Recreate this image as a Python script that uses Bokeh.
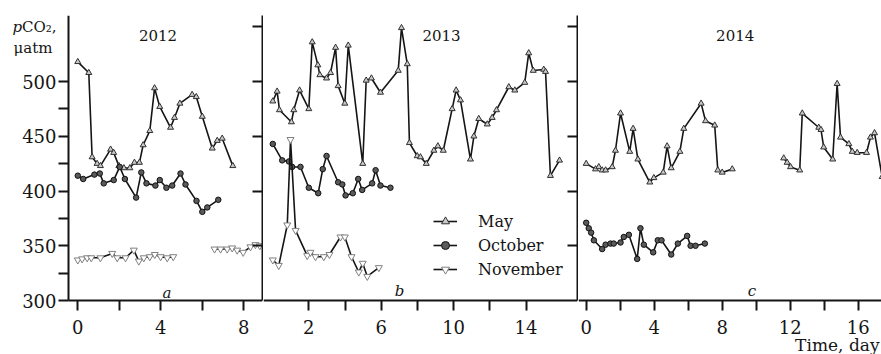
from bokeh.plotting import figure
from bokeh.models import (Range1d, LinearAxis, FixedTicker, Label, Legend,
                          LegendItem, ColumnDataSource)
from bokeh.layouts import row
from bokeh.embed import file_html
from bokeh.resources import INLINE

nan = float("nan")

# ---------------- data (day, pCO2 in uatm) ----------------
# 2012
may12_day = [0.0, 0.53, 0.69, 0.93, 1.09, 1.58, 1.73, 1.98, 2.22, 2.51, 2.73, 2.97, 3.15,
             3.47, 3.70, 3.95, 4.47, 4.66, 4.92, 5.51, 5.71, 6.0, 6.48, 6.72, 6.96, 7.47]
may12 = [518, 508, 431, 425, 423, 438, 435, 423, 421, 421, 426, 426, 442,
         455, 494, 477, 458, 467, 480, 488, 486, 468, 439, 446, 448, 423]
oct12_day = [0.0, 0.26, 0.80, 1.06, 1.25, 1.73, 2.02, 2.27, 2.81, 3.06, 3.31, 3.74, 3.95,
             4.27, 4.55, 4.95, 5.19, 5.72, 6.0, 6.24, 6.77]
oct12 = [414, 411, 415, 416, 407, 410, 422, 411, 394, 417, 407, 405, 410,
         403, 405, 416, 406, 391, 381, 385, 392]
nov12_day = [0.0, 0.21, 0.45, 0.65, 1.09, 1.66, 1.90, 2.30, 2.70, 2.94, 3.18, 3.47, 3.71,
             3.99, 4.31, 4.60, nan, 6.59, 6.88, 7.2, 7.44, 7.68, 7.97, 8.32, 8.56, 8.77]
nov12 = [337, 338, 339, 339, 339, 343, 339, 339, 346, 336, 339, 340, 342,
         340, 339, 340, nan, 347, 347, 347, 348, 346, 344, 349, 351, 350]

# 2013
may13_day = [0.01, 0.25, 0.38, 1.04, 1.17, 1.49, 2.0, 2.19, 2.50, 2.61, 2.98, 3.2, 3.48,
             3.62, 3.99, 4.18, 4.98, 5.17, 5.46, 5.96, 6.94, 7.12, 7.44, 7.56, 7.99, 8.17,
             8.49, 8.91, 9.13, 9.43, 9.92, 10.14, 10.38, 10.93, 11.12, 11.39, 11.86, 12.13,
             12.37, 13.05, 13.38, 13.93, 14.15, 14.4, 14.98, 15.08, 15.35, 15.85]
may13 = [482, 491, 474, 463, 474, 492, 475, 536, 515, 506, 503, 508, 531,
         496, 480, 533, 425, 501, 503, 490, 510, 549, 516, 444, 432, 431,
         425, 437, 441, 437, 475, 492, 483, 429, 450, 466, 461, 467,
         474, 495, 492, 499, 526, 510, 511, 509, 414, 428]
oct13_day = [0.01, 0.53, 0.9, 1.08, 1.54, 2.0, 2.52, 2.77, 2.98, 3.62, 3.85, 4.03, 4.43,
             4.73, 4.95, 5.5, 5.69, 5.96, 6.51]
oct13 = [443, 428, 427, 422, 422, 403, 398, 420, 432, 408, 406, 396, 398,
         411, 401, 407, 419, 405, 403]
nov13_day = [0.01, 0.34, 0.81, 0.99, 1.27, 1.91, 2.09, 2.37, 2.83, 3.14, 3.75, 3.99, 4.36,
             4.76, 4.98, 5.23, 5.87]
nov13 = [337, 332, 369, 447, 364, 341, 344, 340, 340, 342, 358, 358, 340,
         326, 334, 322, 330]

# 2014
may14_day = [0.0, 0.55, 0.74, 0.94, 1.14, 1.53, 1.72, 2.02, 2.56, 2.76, 3.04, 3.74, 3.98,
             4.53, 4.76, 5.0, 5.51, 5.74, 6.76, 7.02, 7.56, 7.74, 8.0, 8.59, nan, 11.62,
             11.82, 12.02, 12.56, 12.71, 13.68, 13.81, 13.97, 14.5, 14.76, 14.96, 15.45,
             15.65, 15.94, 16.49, 16.72, 16.96, 17.41]
may14 = [425, 420, 422, 419, 419, 422, 437, 471, 436, 457, 429, 408, 412,
         417, 441, 421, 436, 457, 480, 464, 460, 419, 417, 420, nan, 430,
         426, 422, 419, 471, 458, 456, 440, 429, 498, 449, 443,
         436, 435, 435, 449, 453, 413]
oct14_day = [0.0, 0.15, 0.29, 0.45, 0.94, 1.14, 1.43, 1.62, 2.02, 2.21, 2.51, 3.0, 3.19,
             3.39, 3.94, 4.21, 4.43, 5.0, 5.39, 5.94, 6.14, 6.43, 6.98]
oct14 = [371, 366, 362, 355, 347, 351, 352, 352, 353, 358, 360, 338, 366,
         351, 344, 355, 355, 342, 352, 359, 350, 350, 352]

years = ["2012", "2013", "2014"]
panel_letters = ["a", "b", "c"]
month_names = ["May", "October", "November"]

# ---------------- styling ----------------
FONT = "DejaVu Serif"
INK = "#151515"
H = 354
TOP = 15
Y_AXIS_TOP = 560.3
Y_RANGE = (250.7, Y_AXIS_TOP)   # frame runs to the bottom of the canvas
Y_BASE = 300

STYLE = {
    "May": dict(marker="triangle", size=6, line_color="#303030", fill_color="#c8c8c8"),
    "October": dict(marker="circle", size=5.5, line_color="#111111", fill_color="#5a5a5a"),
    "November": dict(marker="inverted_triangle", size=7, line_color="#808080", fill_color="white"),
}


def style_axis(ax, size="18px"):
    ax.axis_line_width = 2
    ax.axis_line_color = INK
    ax.major_tick_line_width = 2
    ax.minor_tick_line_width = 2
    ax.major_tick_line_color = INK
    ax.minor_tick_line_color = INK
    ax.major_tick_out = 10
    ax.major_tick_in = 0
    ax.minor_tick_out = 10
    ax.minor_tick_in = 0
    ax.major_label_text_font = FONT
    ax.major_label_text_font_size = size
    ax.major_label_text_color = INK


def make_fig(width, xr, right):
    p = figure(width=width, height=H, x_range=Range1d(*xr), y_range=Range1d(*Y_RANGE),
               output_backend="svg", toolbar_location=None,
               x_axis_location=None, y_axis_location=None,
               min_border_left=0, min_border_right=right,
               min_border_top=TOP, min_border_bottom=0)
    p.outline_line_color = None
    p.xgrid.visible = False
    p.ygrid.visible = False
    p.background_fill_color = "white"
    return p


def x_axis(p, ticks, minor, bounds):
    ax = LinearAxis(fixed_location=Y_BASE, bounds=bounds,
                    ticker=FixedTicker(ticks=ticks, minor_ticks=minor))
    style_axis(ax)
    ax.major_label_standoff = 9
    p.add_layout(ax, "below")


def divider(p):
    ticks = [350, 400, 450, 500, 550]
    ax = LinearAxis(ticker=FixedTicker(ticks=ticks), bounds=(Y_BASE, Y_AXIS_TOP))
    ax.axis_line_width = 2
    ax.axis_line_color = INK
    ax.major_tick_line_width = 2
    ax.major_tick_line_color = INK
    ax.major_tick_in = 10
    ax.major_tick_out = 0
    ax.minor_tick_line_color = None
    ax.major_label_standoff = 0
    ax.major_label_text_font_size = "0px"
    ax.major_label_overrides = {t: "" for t in ticks}
    p.add_layout(ax, "right")


def series(p, days, vals, name):
    src = ColumnDataSource(dict(x=days, y=vals))
    ln = p.line("x", "y", source=src, line_color=INK, line_width=1.6)
    st = STYLE[name]
    sc = p.scatter("x", "y", source=src, marker=st["marker"], size=st["size"],
                   line_color=st["line_color"], fill_color=st["fill_color"], line_width=1)
    return ln, sc


def label(p, x, y, text, size, style="normal", align="left"):
    p.add_layout(Label(x=x, y=y, x_units="screen", y_units="screen", text=text,
                       text_font=FONT, text_font_size=size, text_font_style=style,
                       text_align=align, text_baseline="alphabetic", text_color=INK))


# ---------------- panel a (2012) ----------------
A_LEFT = -0.448
pa = make_fig(263, (-3.725, 8.901), 1)
x_axis(pa, [0, 4, 8], [2, 6], (A_LEFT, 8.901))
ya = LinearAxis(fixed_location=A_LEFT, bounds=(Y_BASE, Y_AXIS_TOP),
                ticker=FixedTicker(ticks=[300, 350, 400, 450, 500],
                                   minor_ticks=[325, 375, 425, 475]))
style_axis(ya)
ya.major_label_standoff = 2
pa.add_layout(ya, "left")
divider(pa)
series(pa, may12_day, may12, "May")
series(pa, oct12_day, oct12, "October")
series(pa, nov12_day, nov12, "November")
label(pa, 12, 328, "p", "15px", "italic")
label(pa, 21.5, 328, "CO\u2082,", "15px")
label(pa, 13, 307, "\u03bcatm", "15px")
label(pa, 157.5, 319, years[0], "15px", align="center")
label(pa, 166.5, 62, panel_letters[0], "15px", "italic", align="center")

# ---------------- panel b (2013) ----------------
pb = make_fig(315, (-0.503, 16.845), 1)
x_axis(pb, [2, 6, 10, 14], [4, 8, 12], (-0.503, 16.845))
divider(pb)
lm, sm = series(pb, may13_day, may13, "May")
lo, so = series(pb, oct13_day, oct13, "October")
ln_, sn = series(pb, nov13_day, nov13, "November")
label(pb, 178, 319, years[1], "15px", align="center")
label(pb, 136, 64, panel_letters[1], "15px", "italic", align="center")
legend = Legend(items=[LegendItem(label=month_names[0], renderers=[lm, sm]),
                       LegendItem(label=month_names[1], renderers=[lo, so]),
                       LegendItem(label=month_names[2], renderers=[ln_, sn])],
                location=(170, 75), orientation="vertical")
legend.border_line_color = None
legend.background_fill_alpha = 0
legend.padding = 0
legend.margin = 0
legend.spacing = 4
legend.glyph_width = 24
legend.glyph_height = 20
legend.label_height = 20
legend.label_standoff = 21
legend.label_text_font = FONT
legend.label_text_font_size = "16px"
legend.label_text_color = INK
pb.add_layout(legend)

# ---------------- panel c (2014) ----------------
pc = make_fig(303, (-0.453, 17.37), 0)
x_axis(pc, [0, 4, 8, 12, 16], [2, 6, 10, 14], (-0.453, 17.37))
series(pc, may14_day, may14, "May")
series(pc, oct14_day, oct14, "October")
label(pc, 156.7, 319, years[2], "15px", align="center")
label(pc, 173.5, 64, panel_letters[2], "15px", "italic", align="center")
label(pc, 301, 10, "Time, day", "17px", align="right")

layout = row(pa, pb, pc)
open("out.html", "w").write(file_html(layout, INLINE))
